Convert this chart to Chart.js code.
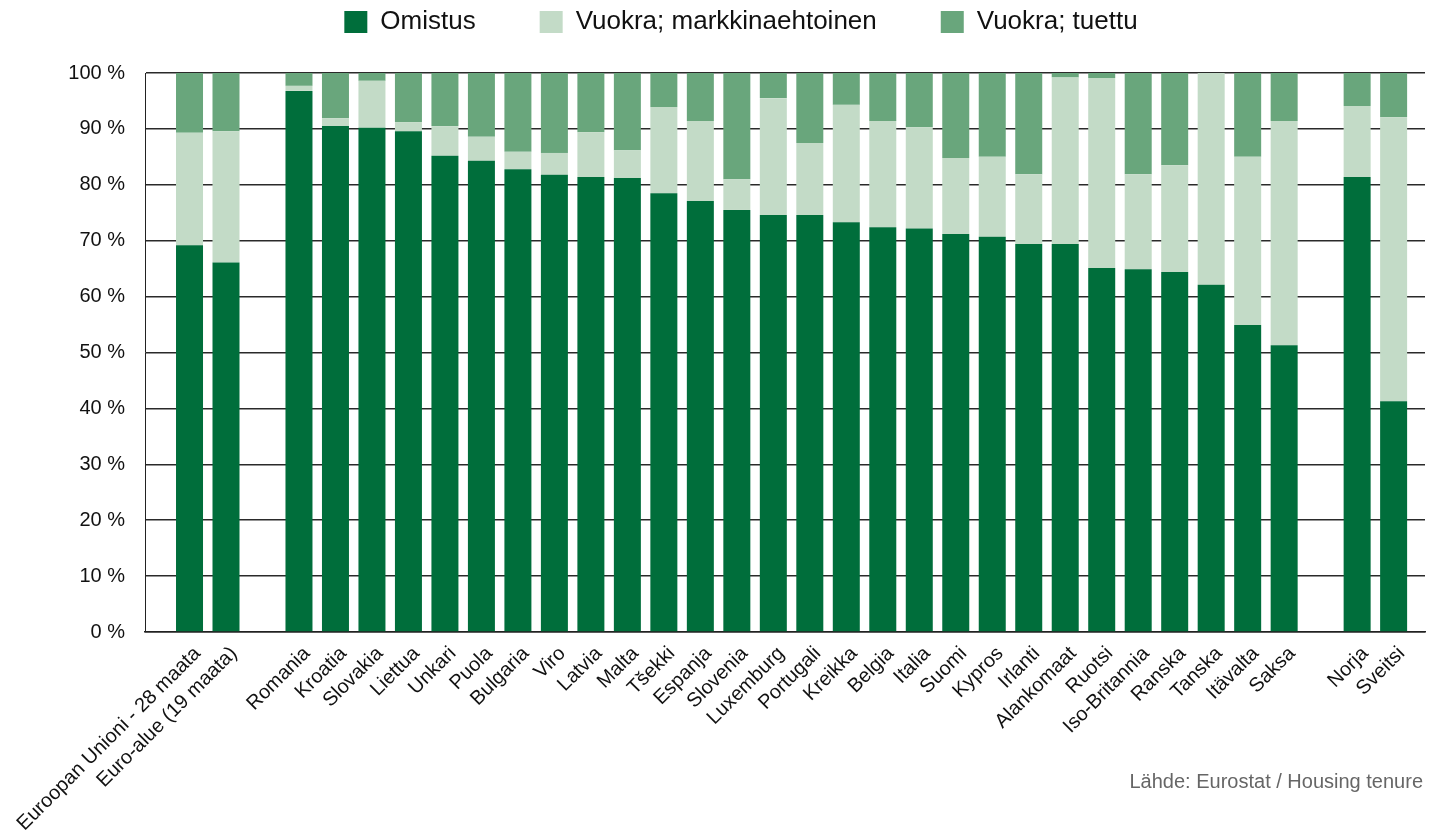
<!DOCTYPE html>
<html lang="fi">
<head>
  <meta charset="UTF-8">
  <title>Asumismuodot Euroopassa</title>
  <script src="https://cdn.jsdelivr.net/npm/chart.js"></script>
  <style>
    body {
      margin: 0;
      background: #fff;
    }
    #wrap {
      width: 1437px;
      height: 835px;
    }
  </style>
</head>
<body>
  <div id="wrap">
    <canvas id="tenureChart" width="1437" height="835"></canvas>
  </div>

  <script>
    // empty strings are the gaps between groups
    const categories = [
      'Euroopan Unioni - 28 maata', 'Euro-alue (19 maata)', '',
      'Romania', 'Kroatia', 'Slovakia', 'Liettua', 'Unkari', 'Puola', 'Bulgaria',
      'Viro', 'Latvia', 'Malta', 'Tšekki', 'Espanja', 'Slovenia', 'Luxemburg',
      'Portugali', 'Kreikka', 'Belgia', 'Italia', 'Suomi', 'Kypros', 'Irlanti',
      'Alankomaat', 'Ruotsi', 'Iso-Britannia', 'Ranska', 'Tanska', 'Itävalta', 'Saksa', '',
      'Norja', 'Sveitsi'
    ];

    const omistus = [
      69.2, 66.1, null,
      96.8, 90.5, 90.2, 89.6, 85.2, 84.3, 82.8,
      81.8, 81.4, 81.2, 78.5, 77.1, 75.5, 74.6,
      74.6, 73.3, 72.4, 72.2, 71.2, 70.7, 69.4,
      69.4, 65.1, 64.9, 64.4, 62.1, 54.9, 51.3, null,
      81.4, 41.3
    ];

    const vuokraMarkkina = [
      20.1, 23.5, null,
      0.9, 1.4, 8.4, 1.6, 5.3, 4.3, 3.1,
      3.9, 8.0, 5.0, 15.4, 14.3, 5.5, 20.9,
      12.9, 21.0, 19.0, 18.1, 13.6, 14.3, 12.5,
      29.8, 34.0, 17.0, 19.1, 37.9, 30.1, 40.1, null,
      12.7, 50.8
    ];

    const vuokraTuettu = [
      10.7, 10.4, null,
      2.3, 8.1, 1.4, 8.8, 9.5, 11.4, 14.1,
      14.3, 10.6, 13.8, 6.1, 8.6, 19.0, 4.5,
      12.5, 5.7, 8.6, 9.7, 15.2, 15.0, 18.1,
      0.8, 0.9, 18.1, 16.5, 0.0, 15.0, 8.6, null,
      5.9, 7.9
    ];

    const seriesNames = ['Omistus', 'Vuokra; markkinaehtoinen', 'Vuokra; tuettu'];
    const seriesColors = ['#006e3b', '#c3dbc7', '#69a67c'];
    const sourceText = 'Lähde: Eurostat / Housing tenure';

    const font = '"Liberation Sans", Arial, Helvetica, sans-serif';

    const toPoints = arr => arr
      .map((v, i) => (v === null ? null : { x: i, y: v }))
      .filter(p => p !== null);

    // legend items sit inside the top padding, so its box is made taller by hand
    const legendHeight = {
      id: 'legendHeight',
      beforeLayout(chart) {
        const lg = chart.legend;
        if (lg && !lg._patched) {
          const fit = lg.fit;
          lg.fit = function () {
            fit.call(this);
            this.height = 128;
          };
          lg._patched = true;
        }
      }
    };

    const sourceNote = {
      id: 'sourceNote',
      afterDraw(chart) {
        const ctx = chart.ctx;
        ctx.save();
        ctx.font = '20px ' + font;
        ctx.fillStyle = '#666';
        ctx.textAlign = 'right';
        ctx.textBaseline = 'middle';
        ctx.fillText(sourceText, 1423, 782);
        ctx.restore();
      }
    };

    const ctx = document.getElementById('tenureChart').getContext('2d');
    new Chart(ctx, {
      type: 'bar',
      data: {
        datasets: [
          { label: seriesNames[0], data: toPoints(omistus), backgroundColor: seriesColors[0] },
          { label: seriesNames[1], data: toPoints(vuokraMarkkina), backgroundColor: seriesColors[1] },
          { label: seriesNames[2], data: toPoints(vuokraTuettu), backgroundColor: seriesColors[2] }
        ]
      },
      options: {
        responsive: false,
        animation: false,
        barPercentage: 0.74,
        categoryPercentage: 1,
        layout: {
          padding: { top: -55, left: 57, right: 12, bottom: 0 }
        },
        plugins: {
          legend: {
            position: 'top',
            labels: {
              boxWidth: 23,
              boxHeight: 22,
              padding: 64,
              color: '#111',
              font: { family: font, size: 26 }
            }
          },
          tooltip: { enabled: false }
        },
        scales: {
          x: {
            type: 'linear',
            stacked: true,
            offset: false,
            min: -1.22,
            max: 33.86,
            grid: { display: false, offset: false },
            border: { display: true, color: '#222', width: 1.5 },
            ticks: {
              stepSize: 1,
              autoSkip: false,
              includeBounds: false,
              minRotation: 45,
              maxRotation: 45,
              padding: 2,
              labelOffset: 8,
              color: '#111',
              font: { family: font, size: 20 },
              callback: v => (Number.isInteger(v) && categories[v] ? categories[v] : '')
            },
            afterFit: scale => { scale.height = 203; }
          },
          y: {
            stacked: true,
            min: 0,
            max: 100,
            grid: { color: '#2a2a2a', lineWidth: 1.5, drawTicks: false },
            border: { display: true, color: '#222', width: 1 },
            ticks: {
              stepSize: 10,
              padding: 20,
              color: '#111',
              font: { family: font, size: 20 },
              callback: v => v + ' %'
            },
            afterFit: scale => { scale.width = 88; }
          }
        }
      },
      plugins: [legendHeight, sourceNote]
    });
  </script>
</body>
</html>
